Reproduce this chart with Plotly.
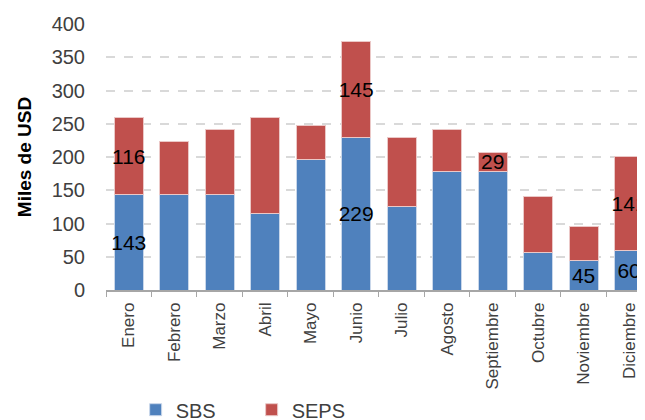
import plotly.graph_objects as go

# Monthly values, thousands of USD
months = ["Enero", "Febrero", "Marzo", "Abril", "Mayo", "Junio",
          "Julio", "Agosto", "Septiembre", "Octubre", "Noviembre", "Diciembre"]
sbs = [143, 143, 143, 115, 197, 229, 125, 178, 178, 57, 45, 60]
seps = [116, 81, 98, 145, 50, 145, 104, 64, 29, 84, 50, 141]

# only some bars carry a data label in the original
sbs_labels = ["143", "", "", "", "", "229", "", "", "", "", "45", "60"]
seps_labels = ["116", "", "", "", "", "145", "", "", "29", "", "", "141"]

font_family = "Liberation Sans, Arial, sans-serif"

fig = go.Figure()
fig.add_trace(go.Bar(
    x=months, y=sbs, name="SBS", text=sbs_labels,
    marker=dict(color="#4F81BD", line=dict(color="#c9d7ea", width=1)),
    textposition="inside", insidetextanchor="middle", constraintext="none",
    textangle=0,
    textfont=dict(color="black", size=21, family=font_family),
    cliponaxis=False,
))
fig.add_trace(go.Bar(
    x=months, y=seps, name="SEPS", text=seps_labels,
    marker=dict(color="#C0504D", line=dict(color="#ebc8c7", width=1)),
    textposition="inside", insidetextanchor="middle", constraintext="none",
    textangle=0,
    textfont=dict(color="black", size=21, family=font_family),
    cliponaxis=False,
))

# the page adds an 8px body margin, so margins are offset by that
fig.update_layout(
    barmode="stack",
    bargap=0.36,
    width=637, height=412,
    margin=dict(l=98, r=0, t=16, b=130, autoexpand=False),
    paper_bgcolor="white",
    plot_bgcolor="white",
    font=dict(family=font_family, color="#404040"),
    showlegend=True,
    legend=dict(
        orientation="h", traceorder="normal",
        x=0.055, y=-0.45, xanchor="left", yanchor="middle",
        font=dict(size=20, color="#404040"),
        entrywidth=71, entrywidthmode="pixels",
        itemwidth=30,
    ),
)

fig.update_xaxes(
    range=[-0.5, 11.35], automargin=False,
    showline=True, linecolor="#a6a6a6", linewidth=1.5,
    ticks="outside", tickson="boundaries", ticklen=5, tickcolor="#a6a6a6",
    tickangle=-90, ticklabelstandoff=4,
    tickfont=dict(size=17, color="#404040"),
    showgrid=False,
)
fig.update_yaxes(
    range=[0, 400], dtick=50, automargin=False,
    showgrid=True, gridcolor="#d9d9d9", griddash="dash", gridwidth=1.5,
    zeroline=False, showline=False,
    ticks="outside", ticklen=16, tickcolor="rgba(0,0,0,0)",
    tickfont=dict(size=20, color="#404040"),
    title=dict(text="<b>Miles de USD</b>", font=dict(size=19, color="black"), standoff=14),
)

fig.write_html("out.html")
